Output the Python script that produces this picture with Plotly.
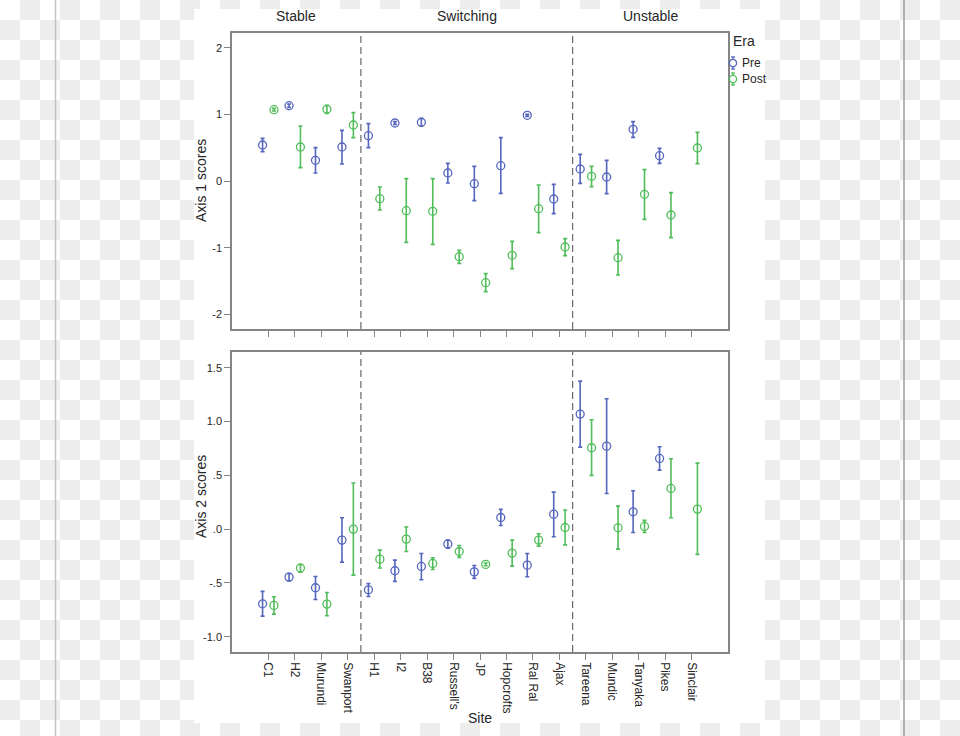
import plotly.graph_objects as go

# ---------------- data ----------------
sites = ["C1", "H2", "Murundi", "Swanport", "H1", "I2", "B38", "Russell's", "JP",
         "Hopcrofts", "Ral Ral", "Ajax", "Tareena", "Mundic", "Tanyaka", "Pikes", "Sinclair"]
groups = ["Stable", "Switching", "Unstable"]
group_bounds = [3.5, 11.5]          # category boundaries between groups
eras = ["Pre", "Post"]

axis1_pre = [0.54, 1.13, 0.31, 0.51, 0.68, 0.87, 0.88, 0.12, -0.04, 0.23, 0.985, -0.27, 0.18, 0.06, 0.775, 0.38, None]
axis1_pre_hi = [0.64, 1.155, 0.50, 0.76, 0.86, 0.89, 0.94, 0.265, 0.22, 0.65, 1.0, -0.05, 0.40, 0.31, 0.89, 0.49, None]
axis1_pre_lo = [0.44, 1.105, 0.12, 0.255, 0.50, 0.85, 0.825, -0.03, -0.295, -0.185, 0.97, -0.49, -0.035, -0.19, 0.655, 0.265, None]

axis1_post = [1.07, 0.51, 1.075, 0.84, -0.265, -0.445, -0.455, -1.135, -1.525, -1.115, -0.415, -0.99, 0.07, -1.15, -0.20, -0.51, 0.495]
axis1_post_hi = [1.09, 0.825, 1.135, 1.025, -0.09, 0.035, 0.035, -1.04, -1.39, -0.905, -0.06, -0.865, 0.22, -0.89, 0.17, -0.175, 0.73]
axis1_post_lo = [1.05, 0.20, 1.015, 0.65, -0.435, -0.92, -0.95, -1.235, -1.66, -1.315, -0.775, -1.12, -0.085, -1.41, -0.575, -0.85, 0.26]

axis2_pre = [-0.694, -0.446, -0.545, -0.102, -0.564, -0.387, -0.347, -0.139, -0.397, 0.108, -0.335, 0.139, 1.069, 0.771, 0.161, 0.657, None]
axis2_pre_hi = [-0.579, -0.412, -0.44, 0.105, -0.505, -0.288, -0.226, -0.102, -0.338, 0.183, -0.226, 0.344, 1.375, 1.211, 0.356, 0.765, None]
axis2_pre_lo = [-0.809, -0.48, -0.654, -0.307, -0.626, -0.486, -0.471, -0.177, -0.458, 0.034, -0.443, -0.071, 0.762, 0.331, -0.031, 0.548, None]

axis2_post = [-0.709, -0.362, -0.697, 0.0, -0.279, -0.093, -0.319, -0.208, -0.328, -0.223, -0.102, 0.015, 0.756, 0.012, 0.025, 0.378, 0.186]
axis2_post_hi = [-0.629, -0.328, -0.589, 0.428, -0.195, 0.019, -0.266, -0.152, -0.315, -0.102, -0.043, 0.177, 1.016, 0.214, 0.081, 0.654, 0.613]
axis2_post_lo = [-0.79, -0.40, -0.805, -0.428, -0.362, -0.208, -0.375, -0.263, -0.34, -0.344, -0.158, -0.146, 0.499, -0.186, -0.031, 0.105, -0.235]

y1_tickvals = [-2, -1, 0, 1, 2]
y1_ticktext = ["-2", "-1", "0", "1", "2"]
y2_tickvals = [-1.0, -0.5, 0.0, 0.5, 1.0, 1.5]
y2_ticktext = ["-1.0", "-.5", ".0", ".5", "1.0", "1.5"]

# ---------------- styling ----------------
W, H = 960, 736
BLUE = "#5566bd"
GREEN = "#50bd5a"
FRAME = "#858585"
TXT = "#262626"
FONT = "Liberation Sans, Arial, sans-serif"
OFFSET = 0.215

def px_x(p):
    return p / W

def px_y(p):
    return 1 - p / H

x_range = [-1.37, len(sites) - 1 + 1.37]
top_dom = [px_y(329), px_y(33)]
bot_dom = [px_y(652), px_y(352)]
x_dom = [px_x(232), px_x(728)]

fig = go.Figure()

# ---- page background (checkerboard + white chart area) as a heatmap on a hidden full-page axis
xe = sorted(set(list(range(0, W + 1, 20)) + [194, 765, W]))
ye = sorted(set(list(range(0, 741, 20)) + [9, 723]))
z = []
for r in range(len(ye) - 1):
    cy = (ye[r] + ye[r + 1]) / 2
    row = []
    for c in range(len(xe) - 1):
        cx = (xe[c] + xe[c + 1]) / 2
        if 194 <= cx <= 765 and 9 <= cy <= 723:
            row.append(0)
        else:
            row.append((int(cx // 20) + int(cy // 20)) % 2)
    z.append(row)
fig.add_trace(go.Heatmap(z=z, x=xe, y=ye, colorscale=[[0, "#ffffff"], [1, "#ededed"]],
                         zmin=0, zmax=1, showscale=False, hoverinfo="skip",
                         xaxis="x", yaxis="y"))

def err(vals, hi, lo):
    up = [None if v is None else h - v for v, h in zip(vals, hi)]
    dn = [None if v is None else v - l for v, l in zip(vals, lo)]
    return up, dn

series = [
    ("x2", "y2", axis1_pre, axis1_pre_hi, axis1_pre_lo, BLUE, -OFFSET),
    ("x2", "y2", axis1_post, axis1_post_hi, axis1_post_lo, GREEN, OFFSET),
    ("x3", "y3", axis2_pre, axis2_pre_hi, axis2_pre_lo, BLUE, -OFFSET),
    ("x3", "y3", axis2_post, axis2_post_hi, axis2_post_lo, GREEN, OFFSET),
]
for i, (xa, ya, vals, hi, lo, col, off) in enumerate(series):
    up, dn = err(vals, hi, lo)
    fig.add_trace(go.Scatter(
        x=[k + off for k in range(len(sites))], y=vals, mode="markers",
        xaxis=xa, yaxis=ya, showlegend=False,
        name=eras[i % 2],
        marker=dict(symbol="circle-open", size=8, color=col, line=dict(width=1.3, color=col)),
        error_y=dict(type="data", symmetric=False, array=up, arrayminus=dn,
                     color=col, thickness=1.6, width=2),
    ))

axis_common = dict(showline=True, mirror=True, linecolor=FRAME, linewidth=1.5,
                   showgrid=False, zeroline=False, ticks="outside", ticklen=6,
                   tickcolor=FRAME, tickwidth=1.3,
                   tickfont=dict(family=FONT, size=11, color=TXT))

fig.update_layout(
    width=W, height=H, margin=dict(l=0, r=0, t=0, b=0),
    paper_bgcolor="white", plot_bgcolor="rgba(0,0,0,0)",
    font=dict(family=FONT, color=TXT),
    showlegend=False,
    xaxis=dict(domain=[0, 1], range=[0, W], visible=False, fixedrange=True),
    yaxis=dict(domain=[0, 1], range=[H, 0], visible=False, fixedrange=True),
    xaxis2=dict(domain=x_dom, anchor="y2", range=x_range, tickmode="array",
                tickvals=list(range(len(sites))), showticklabels=False, **axis_common),
    yaxis2=dict(domain=top_dom, anchor="x2", range=[-2.22, 2.22], tickmode="array",
                tickvals=y1_tickvals, ticktext=y1_ticktext, **axis_common),
    xaxis3=dict(domain=x_dom, anchor="y3", range=x_range, tickmode="array",
                tickvals=list(range(len(sites))), ticktext=sites, tickangle=90,
                **{**axis_common, "tickfont": dict(family=FONT, size=12, color=TXT)}),
    yaxis3=dict(domain=bot_dom, anchor="x3", range=[-1.142, 1.646], tickmode="array",
                tickvals=y2_tickvals, ticktext=y2_ticktext, **axis_common),
)

shapes = []
for xa, ya, yr in [("x2", "y2", [-2.22, 2.22]), ("x3", "y3", [-1.142, 1.646])]:
    for b in group_bounds:
        shapes.append(dict(type="line", xref=xa, yref=ya, x0=b, x1=b, y0=yr[0], y1=yr[1],
                           line=dict(color="#6a6a6a", width=1.2, dash="7px,4px"), layer="above"))
# page border lines
shapes.append(dict(type="line", xref="paper", yref="paper", x0=px_x(55.5), x1=px_x(55.5), y0=0, y1=1,
                   line=dict(color="#c2c2c2", width=1.5), layer="above"))
shapes.append(dict(type="line", xref="paper", yref="paper", x0=px_x(904), x1=px_x(904), y0=0, y1=1,
                   line=dict(color="#8f8f8f", width=1.3), layer="above"))

# manual legend symbols
for yy, col in [(63, BLUE), (79, GREEN)]:
    cx = 733
    shapes.append(dict(type="line", xref="paper", yref="paper", x0=px_x(cx), x1=px_x(cx),
                       y0=px_y(yy - 6), y1=px_y(yy + 6), line=dict(color=col, width=1.3), layer="above"))
    for e in (yy - 6, yy + 6):
        shapes.append(dict(type="line", xref="paper", yref="paper", x0=px_x(cx - 2), x1=px_x(cx + 2),
                           y0=px_y(e), y1=px_y(e), line=dict(color=col, width=1.3), layer="above"))
    shapes.append(dict(type="circle", xref="paper", yref="paper", x0=px_x(cx - 3.6), x1=px_x(cx + 3.6),
                       y0=px_y(yy + 3.6), y1=px_y(yy - 3.6), line=dict(color=col, width=1.3),
                       fillcolor="white", layer="above"))
fig.update_layout(shapes=shapes)

ann = []
edges = [x_range[0]] + group_bounds + [x_range[1]]
for g, (a, b) in zip(groups, zip(edges[:-1], edges[1:])):
    ann.append(dict(text=g, xref="x2", yref="paper", x=(a + b) / 2, y=px_y(16),
                    showarrow=False, font=dict(family=FONT, size=14, color=TXT),
                    xanchor="center", yanchor="middle"))
ann.append(dict(text="Axis 1 scores", xref="paper", yref="paper", x=px_x(201), y=px_y(181),
                textangle=-90, showarrow=False, font=dict(family=FONT, size=14, color=TXT),
                xanchor="center", yanchor="middle"))
ann.append(dict(text="Axis 2 scores", xref="paper", yref="paper", x=px_x(201), y=px_y(497),
                textangle=-90, showarrow=False, font=dict(family=FONT, size=14, color=TXT),
                xanchor="center", yanchor="middle"))
ann.append(dict(text="Site", xref="x3", yref="paper", x=(x_range[0] + x_range[1]) / 2, y=px_y(718),
                showarrow=False, font=dict(family=FONT, size=14, color=TXT),
                xanchor="center", yanchor="middle"))
ann.append(dict(text="Era", xref="paper", yref="paper", x=px_x(731), y=px_y(41),
                showarrow=False, font=dict(family=FONT, size=14, color=TXT),
                xanchor="left", yanchor="middle"))
for t, yy in zip(eras, [63, 79]):
    ann.append(dict(text=t, xref="paper", yref="paper", x=px_x(740), y=px_y(yy),
                    showarrow=False, font=dict(family=FONT, size=12, color=TXT),
                    xanchor="left", yanchor="middle"))
fig.update_layout(annotations=ann)

fig.write_html("out.html", config={"displayModeBar": False},
               post_script="document.body.style.margin='0px';document.body.style.overflow='hidden';")
